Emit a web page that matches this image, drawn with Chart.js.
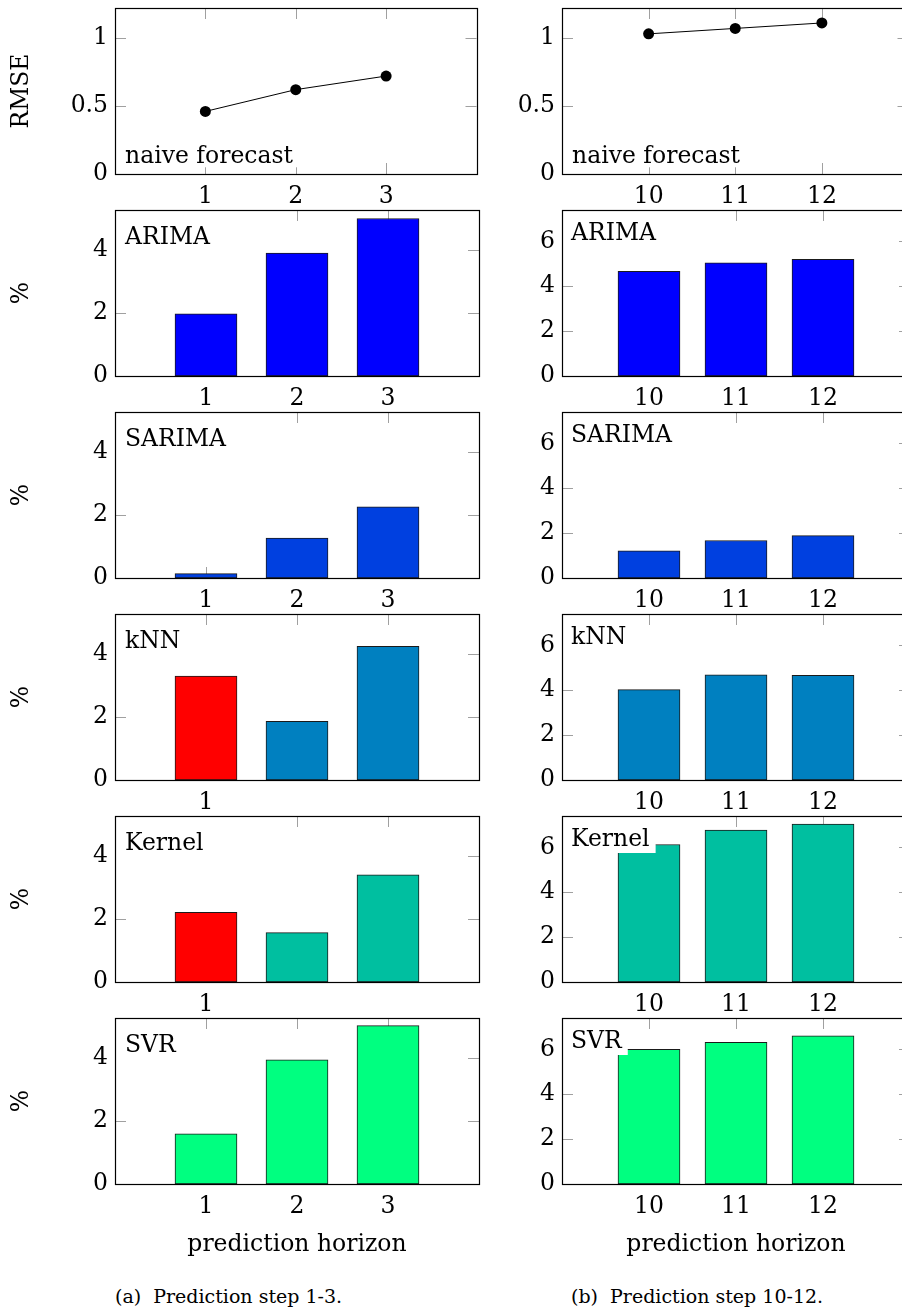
<!DOCTYPE html>
<html>
<head>
<meta charset="utf-8">
<script src="https://cdn.jsdelivr.net/npm/chart.js@4.4.1/dist/chart.umd.min.js"></script>
<style>
  html, body { margin: 0; padding: 0; background: #fff; }
  #page { position: relative; width: 902px; height: 1311px; overflow: hidden; background: #fff; }
  #page canvas { position: absolute; }
  .caption { position: absolute; top: 1287px; line-height: 1; font-family: 'DejaVu Serif'; font-size: 19px; color: #000; white-space: pre; }
</style>
</head>
<body>
<div id="page">
  <div class="caption" style="left:115px;">(a)  Prediction step 1-3.</div>
  <div class="caption" style="left:571px;">(b)  Prediction step 10-12.</div>
</div>
<script>
// prediction horizons
const stepsLeft = [1, 2, 3];
const stepsRight = [10, 11, 12];
const methods = ['naive forecast', 'ARIMA', 'SARIMA', 'kNN', 'Kernel', 'SVR'];

// naive forecast is RMSE, the others are % improvement
const naiveLeft = [0.46, 0.62, 0.72];
const naiveRight = [1.03, 1.07, 1.11];
const arimaLeft = [1.97, 3.90, 5.00];
const arimaRight = [4.67, 5.05, 5.20];
const sarimaLeft = [0.14, 1.27, 2.26];
const sarimaRight = [1.21, 1.67, 1.89];
const knnLeft = [3.30, 1.86, 4.24];
const knnRight = [4.03, 4.69, 4.67];
const kernelLeft = [2.21, 1.57, 3.40];
const kernelRight = [6.13, 6.77, 7.04];
const svrLeft = [1.59, 3.94, 5.03];
const svrRight = [6.00, 6.31, 6.61];

const rmseTicks = [0, 0.5, 1];
const pctTicksLeft = [0, 2, 4];
const pctTicksRight = [0, 2, 4, 6];

const seriesLeft = [naiveLeft, arimaLeft, sarimaLeft, knnLeft, kernelLeft, svrLeft];
const seriesRight = [naiveRight, arimaRight, sarimaRight, knnRight, kernelRight, svrRight];

// styling
const FONT = 23.5;
const barColors = [null, '#0000ff', '#0040e0', '#0080c0', '#00bfa0', '#00ff80'];
const redFirstRows = [3, 4];      // left column: first bar red, other x labels hidden
const ROW_TOP = [8, 210, 412, 614, 816, 1018];
const PLOT_H = 166;
const RMSE_MAX = 1.22;
const COLS = [
  { left: 0, width: 482, axisW: 115, padRight: 3, xMin: 0, xMax: 4, pctMax: 5.27, dx: 10, base: 34 },
  { left: 460, width: 454, axisW: 102, padRight: 4, xMin: 9, xMax: 13, pctMax: 7.4, dx: 9, base: 30 }
];

Chart.defaults.font.family = 'DejaVu Serif';
Chart.defaults.font.size = FONT;
Chart.defaults.color = '#000';

const panelDecor = {
  id: 'panelDecor',
  beforeDatasetsDraw(chart) {
    const { ctx, chartArea: a, scales: { x, y } } = chart;
    ctx.save();
    ctx.strokeStyle = '#a0a0a0';
    ctx.lineWidth = 1;
    ctx.beginPath();
    x.ticks.forEach(t => {
      const px = Math.round(x.getPixelForValue(t.value)) + 0.5;
      ctx.moveTo(px, a.top); ctx.lineTo(px, a.top + 11);
      ctx.moveTo(px, a.bottom); ctx.lineTo(px, a.bottom - 11);
    });
    y.ticks.forEach(t => {
      const py = Math.round(y.getPixelForValue(t.value)) + 0.5;
      ctx.moveTo(a.left, py); ctx.lineTo(a.left + 11, py);
      ctx.moveTo(a.right, py); ctx.lineTo(a.right - 11, py);
    });
    ctx.stroke();
    ctx.restore();
  },
  afterDatasetsDraw(chart, args, opts) {
    const { ctx, chartArea: a } = chart;
    ctx.save();
    ctx.font = FONT + 'px "DejaVu Serif"';
    const w = ctx.measureText(opts.text).width;
    const tx = a.left + opts.dx;
    ctx.fillStyle = '#fff';
    if (opts.bottom) {
      const base = a.bottom - 10.7;
      ctx.fillRect(a.left + 1, base - 25, tx + w + 6 - a.left - 1, 29);
      ctx.fillStyle = '#000';
      ctx.fillText(opts.text, tx, base);
    } else {
      const base = a.top + opts.base;
      ctx.fillRect(a.left + 1, a.top + 1, tx + w + 6 - a.left - 1, opts.base + 6);
      ctx.fillStyle = '#000';
      ctx.fillText(opts.text, tx, base);
    }
    ctx.strokeStyle = '#000';
    ctx.lineWidth = 1.2;
    ctx.strokeRect(Math.round(a.left) + 0.5, Math.round(a.top) + 0.5,
      Math.round(a.right - a.left), Math.round(a.bottom - a.top));
    ctx.restore();
  }
};

const page = document.getElementById('page');

function makePanel(row, col) {
  const c = COLS[col];
  const isNaive = row === 0;
  const isLast = row === methods.length - 1;
  const steps = col === 0 ? stepsLeft : stepsRight;
  const values = (col === 0 ? seriesLeft : seriesRight)[row];
  const yTicks = isNaive ? rmseTicks : (col === 0 ? pctTicksLeft : pctTicksRight);
  const yMax = isNaive ? RMSE_MAX : c.pctMax;
  const onlyFirst = col === 0 && redFirstRows.includes(row);
  const xH = isLast ? 80 : 36;
  const h = 6 + PLOT_H + xH;

  const canvas = document.createElement('canvas');
  canvas.width = c.width;
  canvas.height = h;
  canvas.style.left = c.left + 'px';
  canvas.style.top = (ROW_TOP[row] - 6) + 'px';
  canvas.style.width = c.width + 'px';
  canvas.style.height = h + 'px';
  page.appendChild(canvas);

  const points = steps.map((s, i) => ({ x: s, y: values[i] }));
  const dataset = isNaive
    ? {
        data: points,
        borderColor: '#000',
        borderWidth: 1,
        pointRadius: 5.5,
        pointBackgroundColor: '#000',
        pointBorderWidth: 0,
        tension: 0
      }
    : {
        data: points,
        backgroundColor: steps.map((s, i) => (onlyFirst && i === 0) ? '#ff0000' : barColors[row]),
        borderColor: '#1a1a1a',
        borderWidth: 1,
        borderSkipped: false,
        barThickness: 62
      };

  const noPad = s => { s.paddingTop = 0; s.paddingBottom = 0; s.paddingLeft = 0; s.paddingRight = 0; };

  return new Chart(canvas, {
    type: isNaive ? 'line' : 'bar',
    data: { datasets: [dataset] },
    options: {
      responsive: false,
      animation: false,
      devicePixelRatio: 1,
      layout: { padding: { top: 6, right: c.padRight, left: 0, bottom: 0 } },
      plugins: {
        legend: { display: false },
        tooltip: { enabled: false },
        panelDecor: { text: methods[row], bottom: isNaive, dx: isNaive ? 10 : c.dx, base: c.base }
      },
      scales: {
        x: {
          type: 'linear',
          min: c.xMin,
          max: c.xMax,
          offset: false,
          grid: { display: false, drawTicks: false },
          border: { display: false },
          afterBuildTicks: s => { s.ticks = steps.map(v => ({ value: v })); },
          afterFit: s => { s.height = xH; noPad(s); },
          ticks: {
            padding: 9,
            autoSkip: false,
            maxRotation: 0,
            callback: v => (onlyFirst && v !== steps[0]) ? '' : String(v)
          },
          title: { display: isLast, text: 'prediction horizon', padding: { top: 0, bottom: 5 } }
        },
        y: {
          min: 0,
          max: yMax,
          grid: { display: false, drawTicks: false },
          border: { display: false },
          afterBuildTicks: s => { s.ticks = yTicks.map(v => ({ value: v })); },
          afterFit: s => { s.width = c.axisW; noPad(s); },
          ticks: { padding: 7, callback: v => String(v) },
          title: { display: col === 0, text: isNaive ? 'RMSE' : '%', padding: { top: 8, bottom: 0 } }
        }
      }
    },
    plugins: [panelDecor]
  });
}

const charts = [];
for (let row = 0; row < methods.length; row++) {
  charts.push(makePanel(row, 0));
  charts.push(makePanel(row, 1));
}
</script>
</body>
</html>
